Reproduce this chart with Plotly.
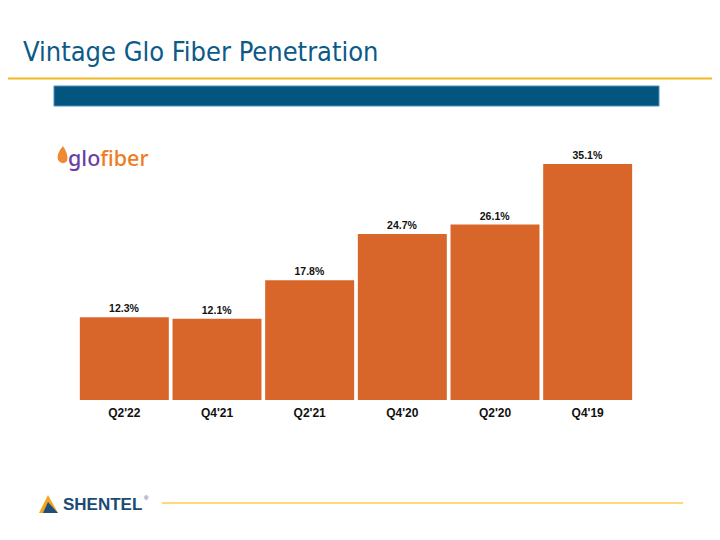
import plotly.graph_objects as go

categories = ["Q2'22", "Q4'21", "Q2'21", "Q4'20", "Q2'20", "Q4'19"]
penetration = [12.3, 12.1, 17.8, 24.7, 26.1, 35.1]
labels = ["12.3%", "12.1%", "17.8%", "24.7%", "26.1%", "35.1%"]

OFF = 8  # page body margin
W, H = 720 - OFF, 540 - OFF
# plot area in reference (page) pixels
L, R, T, B = 78, 634, 150, 400

def px(x):
    return (x - L) / (R - L)

def py(y):
    return (B - y) / (B - T)

fig = go.Figure(go.Bar(
    x=categories, y=penetration, text=labels, textposition="outside",
    textfont=dict(family="Liberation Sans", size=10.5, color="#111111", weight="bold"),
    marker=dict(color="#d8662a", line=dict(width=0)),
    cliponaxis=False,
))

shapes = [
    dict(type="line", xref="paper", yref="paper", x0=px(0), x1=px(720), y0=py(78.5), y1=py(78.5),
         line=dict(color="#f2b820", width=2)),
    dict(type="rect", xref="paper", yref="paper", x0=px(54), x1=px(659), y0=py(106), y1=py(86),
         fillcolor="#03557f", line=dict(color="#4a8fbf", width=1)),
    dict(type="line", xref="paper", yref="paper", x0=px(162), x1=px(683), y0=py(503), y1=py(503),
         line=dict(color="#fdd97a", width=2)),
    dict(type="path", xref="paper", yref="paper",
         path=f"M {px(48)},{py(495)} L {px(39)},{py(513)} L {px(58)},{py(513)} Z",
         fillcolor="#f3a51f", line=dict(width=0)),
    dict(type="path", xref="paper", yref="paper",
         path=f"M {px(48)},{py(502)} L {px(43)},{py(513)} L {px(58)},{py(513)} Z",
         fillcolor="#1f4f7a", line=dict(width=0)),
    dict(type="path", xref="paper", yref="paper",
         path=f"M {px(63)},{py(146)} Q {px(56)},{py(154)} {px(58)},{py(160)} Q {px(62)},{py(166)} {px(67)},{py(161)} Q {px(69)},{py(155)} {px(63)},{py(146)} Z",
         fillcolor="#f08a30", line=dict(width=0)),
]

annotations = [
    dict(text="Vintage Glo Fiber Penetration", xref="paper", yref="paper",
         x=px(21), y=py(51), xanchor="left", yanchor="middle", showarrow=False,
         font=dict(family="DejaVu Sans Condensed, Liberation Sans", size=27, color="#0b5a88")),
    dict(text="<span style='color:#6b3fa3'>glo</span><span style='color:#f07c22'>fiber</span>",
         xref="paper", yref="paper", x=px(66), y=py(157), xanchor="left", yanchor="middle",
         showarrow=False, font=dict(family="Noto Sans", size=21.5, weight=500)),
    dict(text="SHENTEL", xref="paper", yref="paper", x=px(61), y=py(504),
         xanchor="left", yanchor="middle", showarrow=False,
         font=dict(family="Liberation Sans", size=17, weight="bold", color="#1b4a73")),
    dict(text="®", xref="paper", yref="paper", x=px(142), y=py(498),
         xanchor="left", yanchor="middle", showarrow=False,
         font=dict(family="Liberation Sans", size=6, color="#1b4a73")),
]

fig.update_layout(
    width=W, height=H,
    margin=dict(l=L - OFF, r=720 - R, t=T - OFF, b=540 - B, pad=0),
    paper_bgcolor="white", plot_bgcolor="white",
    bargap=0.04,
    showlegend=False,
    shapes=shapes, annotations=annotations,
    xaxis=dict(showline=False, showgrid=False, ticks="", ticklabelstandoff=4,
               tickfont=dict(family="Liberation Sans", size=12, color="#111111", weight="bold")),
    yaxis=dict(range=[0, 250 / (236 / 35.1)], visible=False, showgrid=False),
)

fig.write_html("out.html")
